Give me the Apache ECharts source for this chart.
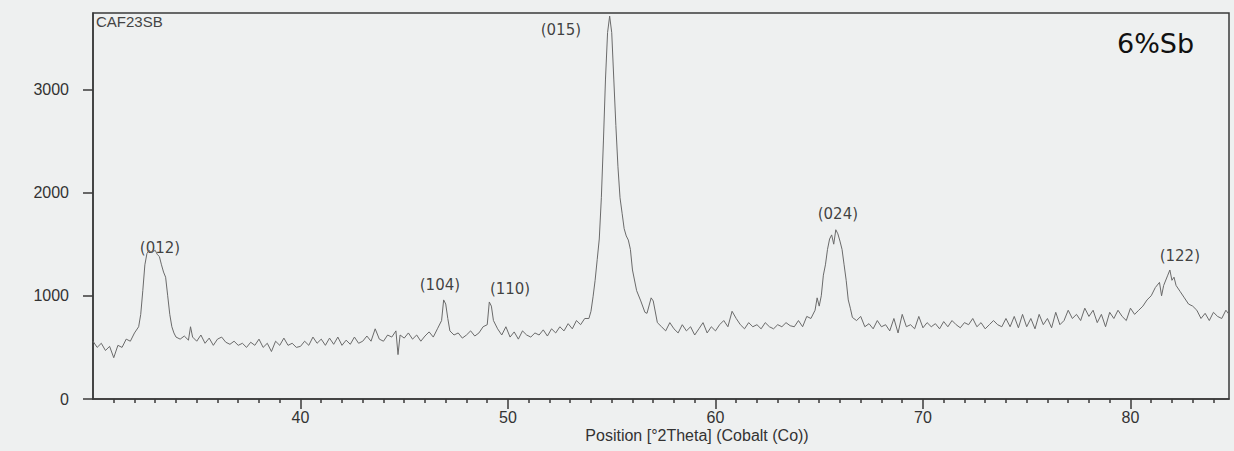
<!DOCTYPE html>
<html>
<head>
<meta charset="utf-8">
<script src="https://cdn.jsdelivr.net/npm/echarts@6/dist/echarts.min.js"></script>
<style>
  html, body { margin: 0; padding: 0; background: #eef0f0; }
  #chart { width: 1234px; height: 451px; }
</style>
</head>
<body>
<div id="chart"></div>
<script>
// diffraction pattern
var twoTheta = [
  30.0, 30.2, 30.4, 30.6, 30.8, 31.0, 31.2, 31.4, 31.6, 31.8, 32.0,
  32.2, 32.3, 32.4, 32.5, 32.6, 32.7, 32.8, 33.0, 33.1, 33.2, 33.3, 33.4, 33.5, 33.6, 33.7, 33.8, 33.9, 34.0,
  34.2, 34.4, 34.6, 34.7, 34.8, 35.0, 35.2, 35.4, 35.6, 35.8, 36.0, 36.2, 36.4, 36.6, 36.8, 37.0,
  37.2, 37.4, 37.6, 37.8, 38.0, 38.2, 38.4, 38.6, 38.8, 39.0, 39.2, 39.4, 39.6, 39.8, 40.0,
  40.2, 40.4, 40.6, 40.8, 41.0, 41.2, 41.4, 41.6, 41.8, 42.0, 42.2, 42.4, 42.6, 42.8, 43.0,
  43.2, 43.4, 43.6, 43.8, 44.0, 44.2, 44.4, 44.6, 44.7, 44.8, 45.0, 45.2, 45.4, 45.6, 45.8, 46.0,
  46.2, 46.4, 46.6, 46.8, 46.9, 47.0, 47.1, 47.2, 47.4, 47.6, 47.8, 48.0, 48.2, 48.4, 48.6, 48.8,
  49.0, 49.1, 49.2, 49.3, 49.5, 49.7, 49.9, 50.1, 50.3, 50.5, 50.7, 50.9, 51.1, 51.3, 51.5, 51.7,
  51.9, 52.1, 52.3, 52.5, 52.7, 52.9, 53.1, 53.3, 53.5, 53.7, 53.9, 54.0, 54.1, 54.2, 54.3, 54.4,
  54.5, 54.6, 54.7, 54.8, 54.9, 55.0, 55.1, 55.2, 55.3, 55.4, 55.5, 55.6, 55.7, 55.8, 55.9, 56.0,
  56.2, 56.4, 56.6, 56.7, 56.9, 57.0, 57.2, 57.4, 57.6, 57.8, 58.0, 58.2, 58.4, 58.6, 58.8, 59.0,
  59.2, 59.4, 59.6, 59.8, 60.0, 60.2, 60.4, 60.6, 60.8, 61.0, 61.2, 61.4, 61.6, 61.8, 62.0, 62.2,
  62.4, 62.6, 62.8, 63.0, 63.2, 63.4, 63.6, 63.8, 64.0, 64.2, 64.4, 64.6, 64.8, 64.9, 65.0, 65.1,
  65.2, 65.3, 65.4, 65.5, 65.6, 65.7, 65.8, 65.9, 66.0, 66.1, 66.2, 66.3, 66.4, 66.5, 66.6, 66.8,
  67.0, 67.2, 67.4, 67.6, 67.8, 68.0, 68.2, 68.4, 68.6, 68.8, 69.0, 69.2, 69.4, 69.6, 69.8, 70.0,
  70.2, 70.4, 70.6, 70.8, 71.0, 71.2, 71.4, 71.6, 71.8, 72.0, 72.2, 72.4, 72.6, 72.8, 73.0, 73.2,
  73.4, 73.6, 73.8, 74.0, 74.2, 74.4, 74.6, 74.8, 75.0, 75.2, 75.4, 75.6, 75.8, 76.0, 76.2, 76.4,
  76.6, 76.8, 77.0, 77.2, 77.4, 77.6, 77.8, 78.0, 78.2, 78.4, 78.6, 78.8, 79.0, 79.2, 79.4, 79.6,
  79.8, 80.0, 80.2, 80.4, 80.6, 80.8, 81.0, 81.2, 81.4, 81.5, 81.6, 81.8, 81.9, 82.0, 82.1, 82.2,
  82.4, 82.6, 82.8, 83.0, 83.2, 83.4, 83.6, 83.8, 84.0, 84.2, 84.4, 84.6, 84.75
];
var counts = [
  560, 500, 540, 470, 510, 400, 520, 500, 580, 560, 640,
  700, 820, 1050, 1300, 1410, 1440, 1420, 1440, 1400, 1380, 1300, 1230, 1180, 1000, 820, 700, 640, 600,
  580, 610, 570, 700, 600, 560, 620, 540, 590, 520, 580, 600, 550, 530, 560, 520,
  540, 500, 550, 520, 580, 500, 540, 460, 560, 520, 590, 520, 540, 500, 510,
  560, 520, 600, 540, 580, 520, 590, 530, 600, 520, 570, 530, 600, 540, 560,
  610, 560, 680, 580, 560, 620, 600, 660, 430, 620, 590, 640, 580, 620, 560, 610,
  650, 600, 680, 760, 960, 920, 780, 660, 620, 640, 590, 620, 660, 610, 640, 700,
  720, 940, 900, 760, 680, 620, 700, 600, 650, 580, 660, 620, 600, 640, 620, 670,
  610, 680, 640, 700, 660, 730, 680, 760, 720, 780, 780, 850, 990, 1150, 1350, 1550,
  1950, 2500, 3100, 3550, 3710, 3550, 3100, 2650, 2250, 1950, 1800, 1650, 1580, 1540, 1450, 1250,
  1050, 950, 840, 830, 980, 950, 740, 700, 660, 740, 680, 640, 720, 660, 700, 620,
  680, 740, 640, 700, 660, 720, 760, 700, 850, 780, 720, 680, 740, 700, 720, 680,
  740, 700, 680, 720, 700, 740, 710, 700, 760, 700, 800, 780, 860, 980, 900, 1000,
  1200, 1300, 1450, 1550, 1590, 1500, 1640, 1600, 1530, 1450, 1300, 1150, 960, 880, 790, 760,
  800, 700, 730, 680, 760, 700, 720, 660, 780, 640, 820, 700, 720, 680, 800, 690,
  740, 700, 730, 680, 750, 700, 760, 720, 690, 740, 720, 780, 700, 740, 680, 720,
  760, 720, 700, 780, 700, 800, 690, 820, 700, 780, 680, 820, 720, 780, 690, 840,
  720, 760, 860, 780, 820, 760, 880, 800, 860, 740, 820, 700, 840, 780, 860, 800,
  760, 880, 820, 860, 900, 960, 1000, 1080, 1130, 1000, 1100, 1200, 1250, 1150, 1180, 1100,
  1040, 980, 920, 900, 860, 780, 830, 760, 840, 800, 780, 860, 820
];

// peak indexing labels and where they sit (2theta, counts)
var peakNames = ['(012)', '(104)', '(110)', '(015)', '(024)', '(122)'];
var peakLabelX = [33.23, 46.72, 50.1, 52.55, 65.9, 82.38];
var peakLabelY = [1466, 1107, 1068, 3573, 1796, 1388];

var xMin = 30, xMax = 84.75;
var yMin = 0, yMax = 3740;
var xMajorTicks = [40, 50, 60, 70, 80];
var yTicks = [0, 1000, 2000, 3000];

var ink = '#3a3a3a';
var xMinorTicks = [];
for (var t = 31; t < xMax; t++) {
  if (t % 10 !== 0) xMinorTicks.push(t);
}

var pattern = twoTheta.map(function(x, i) { return [x, counts[i]]; });
var peakLabels = peakNames.map(function(n, i) {
  return { name: n, value: [peakLabelX[i], peakLabelY[i]] };
});

var chart = echarts.init(document.getElementById('chart'), null, { renderer: 'svg' });
chart.setOption({
  animation: false,
  backgroundColor: '#eef0f0',
  grid: {
    left: 93, right: 5, top: 13, bottom: 52,
    show: true, borderColor: ink, borderWidth: 1.5, backgroundColor: 'transparent'
  },
  xAxis: [
    {
      type: 'value', min: xMin, max: xMax,
      axisLine: { lineStyle: { color: ink, width: 1.5 } },
      axisTick: { show: true, customValues: xMajorTicks, length: 10, lineStyle: { color: ink, width: 1.5 } },
      axisLabel: {
        customValues: xMajorTicks, margin: 10,
        color: '#333', fontSize: 16, fontFamily: 'Liberation Sans',
        formatter: function(v) { return String(v); }
      },
      splitLine: { show: false }
    },
    {
      type: 'value', min: xMin, max: xMax, position: 'bottom',
      axisLine: { show: false },
      axisTick: { show: true, customValues: xMinorTicks, length: 4, lineStyle: { color: ink, width: 1.5 } },
      axisLabel: { show: false },
      splitLine: { show: false }
    }
  ],
  yAxis: {
    type: 'value', min: yMin, max: yMax,
    axisLine: { show: true, lineStyle: { color: ink, width: 1.5 } },
    axisTick: { show: true, customValues: yTicks, length: 10, lineStyle: { color: ink, width: 1.5 } },
    axisLabel: {
      customValues: yTicks, margin: 24,
      color: '#333', fontSize: 16, fontFamily: 'Liberation Sans',
      formatter: function(v) { return String(v); }
    },
    splitLine: { show: false }
  },
  graphic: [
    {
      type: 'text', left: 96, top: 14,
      style: { text: 'CAF23SB', fill: '#444', font: '15px "Liberation Sans"' }
    },
    {
      type: 'text', left: 1117, top: 30,
      style: { text: '6%Sb', fill: '#111', font: '27px "DejaVu Sans"' }
    },
    {
      type: 'text', x: 697, y: 427,
      style: {
        text: 'Position [°2Theta] (Cobalt (Co))', fill: '#333',
        font: '16px "Liberation Sans"', textAlign: 'center', textVerticalAlign: 'top'
      }
    }
  ],
  series: [
    {
      type: 'line',
      xAxisIndex: 0,
      data: pattern,
      symbol: 'none',
      lineStyle: { color: '#6a6a6a', width: 1 }
    },
    {
      type: 'scatter',
      xAxisIndex: 0,
      data: peakLabels,
      symbolSize: 0,
      silent: true,
      label: {
        show: true, position: 'inside', formatter: '{b}',
        color: '#111', fontSize: 15, fontFamily: 'DejaVu Sans'
      }
    }
  ]
});
window.addEventListener('resize', function() { chart.resize(); });
</script>
</body>
</html>
